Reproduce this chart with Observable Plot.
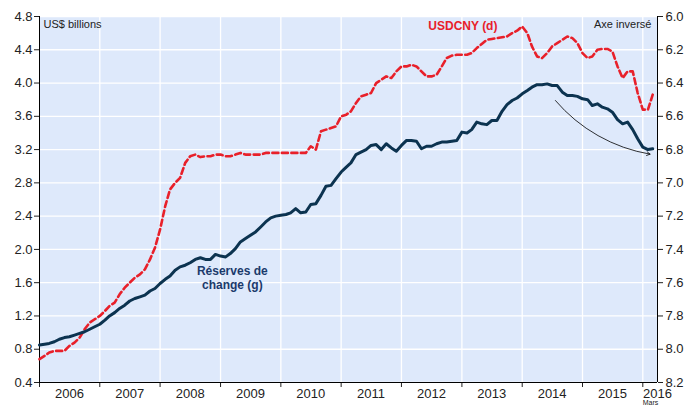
<!DOCTYPE html>
<html><head><meta charset="utf-8">
<script src="https://cdn.jsdelivr.net/npm/d3@7"></script>
<script src="https://cdn.jsdelivr.net/npm/@observablehq/plot@0.6"></script>
<style>body{margin:0;background:#fff}</style>
</head><body><div id="chart"></div>
<script>
// Monthly, Jan 2006 .. Mar 2016
const reserves = [
  0.85,0.86,0.87,0.89,0.92,0.94,0.95,0.97,0.99,1.01,1.04,1.07,
  1.10,1.15,1.20,1.24,1.29,1.33,1.38,1.41,1.43,1.45,1.50,1.53,
  1.59,1.64,1.68,1.75,1.79,1.81,1.84,1.88,1.90,1.88,1.88,1.94,
  1.92,1.91,1.95,2.01,2.09,2.13,2.17,2.21,2.27,2.33,2.38,2.40,
  2.41,2.42,2.44,2.49,2.44,2.45,2.54,2.55,2.65,2.76,2.77,2.85,
  2.93,2.99,3.04,3.14,3.17,3.20,3.25,3.26,3.20,3.27,3.22,3.18,
  3.25,3.31,3.31,3.30,3.21,3.24,3.24,3.27,3.29,3.29,3.30,3.31,
  3.41,3.40,3.44,3.53,3.51,3.50,3.55,3.55,3.66,3.74,3.79,3.82,
  3.87,3.91,3.95,3.98,3.98,3.99,3.97,3.97,3.89,3.85,3.85,3.84,
  3.81,3.80,3.73,3.75,3.71,3.69,3.65,3.56,3.51,3.53,3.44,3.33,
  3.23,3.20,3.21
];
const usdcny = [
  8.06,8.04,8.02,8.01,8.01,8.01,7.98,7.96,7.93,7.88,7.84,7.82,
  7.80,7.77,7.74,7.72,7.67,7.63,7.60,7.57,7.55,7.52,7.46,7.39,
  7.28,7.14,7.04,7.00,6.97,6.88,6.84,6.83,6.845,6.84,6.84,6.83,
  6.83,6.84,6.84,6.83,6.82,6.83,6.83,6.83,6.83,6.82,6.82,6.82,
  6.82,6.82,6.82,6.82,6.82,6.82,6.78,6.80,6.69,6.68,6.67,6.66,
  6.60,6.59,6.57,6.52,6.48,6.47,6.46,6.40,6.38,6.36,6.37,6.33,
  6.30,6.30,6.29,6.30,6.33,6.36,6.36,6.35,6.30,6.25,6.235,6.23,
  6.23,6.23,6.22,6.19,6.165,6.14,6.135,6.13,6.125,6.12,6.10,6.085,
  6.06,6.10,6.18,6.24,6.25,6.22,6.18,6.16,6.14,6.12,6.13,6.16,
  6.22,6.25,6.24,6.20,6.195,6.195,6.21,6.30,6.37,6.33,6.33,6.46,
  6.56,6.56,6.47
];
const leftTicks = [0.4,0.8,1.2,1.6,2.0,2.4,2.8,3.2,3.6,4.0,4.4,4.8];
const rightTicks = [8.2,8.0,7.8,7.6,7.4,7.2,7.0,6.8,6.6,6.4,6.2,6.0];
const yearLabels = ["2006","2007","2008","2009","2010","2011","2012","2013","2014","2015","2016"];
const seriesLabels = ["Réserves de\nchange (g)", "USDCNY (d)"];
const arrowPoints = [{x1:"2014-07-21", y1:3.79, x2:"2016-02-14", y2:3.145}];

const start = new Date(Date.UTC(2006,0,1));
const end = new Date(Date.UTC(2016,2,30));
const months = d3.utcMonth.range(start, new Date(Date.UTC(2016,3,1)));
const toLeft = r => 4.8 - (r - 6.0) * 2;
const data = months.map((d,i) => ({date:d, reserves:reserves[i], cny:toLeft(usdcny[i])}));
const yearStarts = d3.range(2007, 2017).map(y => new Date(Date.UTC(y,0,1)));
const labelDates = yearLabels.map(y => +y < 2016 ? new Date(Date.UTC(+y,6,1)) : end);
const labelMap = new Map(labelDates.map((d,i) => [+d, yearLabels[i]]));
const rightMap = new Map(leftTicks.map((v,i) => [v, rightTicks[i].toFixed(1)]));

const navy = "#0c3350", red = "#e8202a";
const chart = Plot.plot({
  width:684, height:406,
  marginLeft:39, marginRight:27, marginTop:16, marginBottom:24,
  style:{fontFamily:"'Liberation Sans', Arial, sans-serif", fontSize:"13px", color:"#222", background:"#fff"},
  x:{type:"utc", domain:[start, end]},
  y:{domain:[0.4, 4.8]},
  marks:[
    Plot.frame({fill:"#dee9fb", stroke:null}),
    Plot.gridY(leftTicks, {stroke:"#fff", strokeOpacity:1, strokeWidth:1.3}),
    Plot.gridX(yearStarts, {stroke:"#fff", strokeOpacity:1, strokeWidth:1.3}),
    Plot.axisY(leftTicks, {anchor:"left", tickSize:5, tickPadding:2, tickFormat:d3.format(".1f"), label:null}),
    Plot.axisY(leftTicks, {anchor:"right", tickSize:5, tickPadding:3, tickFormat:v => rightMap.get(v), label:null}),
    Plot.axisX([start, ...yearStarts], {tickSize:5, tickFormat:() => "", label:null}),
    Plot.axisX(labelDates, {tickSize:0, tickPadding:6, tickFormat:d => labelMap.get(+d), label:null}),
    Plot.text(["Mars"], {x:() => end, y:() => 0.4, dx:-7, dy:20.5, fontSize:7, fill:"#222"}),
    Plot.ruleX([start, end], {stroke:"#000", strokeWidth:1}),
    Plot.ruleY([0.4], {stroke:"#000", strokeWidth:1}),
    Plot.line(data, {x:"date", y:"cny", stroke:red, strokeWidth:2.6, strokeDasharray:"6,3.5"}),
    Plot.line(data, {x:"date", y:"reserves", stroke:navy, strokeWidth:3}),
    Plot.arrow(arrowPoints, {x1:d => new Date(d.x1), y1:"y1", x2:d => new Date(d.x2), y2:"y2", bend:-20, stroke:"#000", strokeWidth:0.8, headLength:7}),
    Plot.text(["US$ billions"], {frameAnchor:"top-left", dx:4, dy:4, fontSize:11, fill:"#222", lineAnchor:"top"}),
    Plot.text(["Axe inversé"], {frameAnchor:"top-right", dx:-6, dy:4, fontSize:11, fill:"#222", lineAnchor:"top"}),
    Plot.text([seriesLabels[1]], {x:() => new Date(Date.UTC(2013,0,7)), y:() => 4.68, fontSize:12, fontWeight:"bold", fill:red}),
    Plot.text([seriesLabels[0]], {x:() => new Date(Date.UTC(2009,2,13)), y:() => 1.66, fontSize:12, fontWeight:"bold", fill:"#1b3a6b", lineHeight:1.17})
  ]
});
document.getElementById("chart").append(chart);
</script>
</body></html>
